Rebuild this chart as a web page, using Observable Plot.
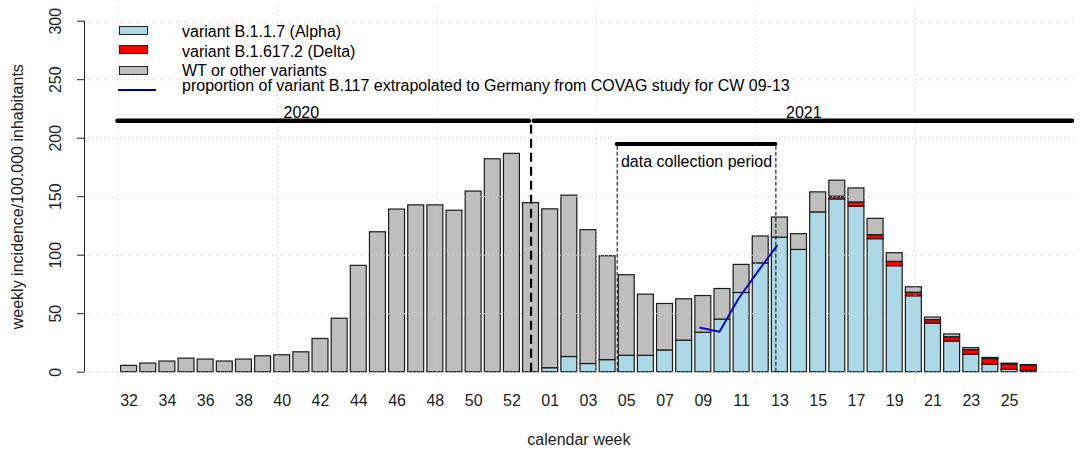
<!DOCTYPE html>
<html>
<head>
<meta charset="utf-8">
<script src="https://cdn.jsdelivr.net/npm/d3@7"></script>
<script src="https://cdn.jsdelivr.net/npm/@observablehq/plot@0.6"></script>
<style>
  html, body { margin: 0; padding: 0; background: #fff; }
  #wrap { position: relative; width: 1084px; height: 456px; font-family: "Liberation Sans", Arial, sans-serif; color: #000; }
  #wrap svg { display: block; }
  .lg-box { position: absolute; width: 29px; height: 9px; box-sizing: border-box; border: 1px solid #222; }
  .lg-text { position: absolute; left: 182px; font-size: 16px; line-height: 18px; white-space: nowrap; }
  .lg-line { position: absolute; left: 118px; width: 38px; height: 2px; background: #00008b; }
</style>
</head>
<body>
<div id="wrap"></div>
<script>
// ---- data ----
const weeks = ["32","33","34","35","36","37","38","39","40","41","42","43","44","45","46","47","48","49","50","51","52","53",
               "01","02","03","04","05","06","07","08","09","10","11","12","13","14","15","16","17","18","19","20","21","22","23","24","25","26"];
const alpha = [0,0,0,0,0,0,0,0,0,0,0,0,0,0,0,0,0,0,0,0,0,0,
               3.4,13,7,10.3,14,14,18.6,27,33.7,45,67.7,93,115,104.5,136.6,147.7,141.4,113.7,90.6,64.9,41.6,26.2,14.8,6.4,2.0,1.2];
const delta = [0,0,0,0,0,0,0,0,0,0,0,0,0,0,0,0,0,0,0,0,0,0,
               0,0,0,0,0,0,0,0,0,0,0,0,0,0,0,2.3,3.7,3.4,3.7,3.1,2.9,3.7,4.1,4.8,4.7,4.4];
const other = [5.4,7.4,9.1,11.6,10.8,9.1,10.8,13.6,14.5,17,28.4,45.7,90.9,119.6,139,142.6,142.6,138,154.4,182,186.6,144.5,
               135.8,137.9,114.4,88.8,68.9,52.3,39.7,35.3,31.4,26.1,24,23,17.2,13.5,17.1,13.7,12,14,7.4,4.6,2.2,2.4,1.7,1.0,0.6,0.5];
const seriesNames = ["variant B.1.1.7 (Alpha)", "variant B.1.617.2 (Delta)", "WT or other variants"];
const seriesColors = ["#add8e6", "#ff0000", "#bebebe"];
const covagWeeks = ["09","10","11","12","13"];
const covagValues = [38, 34.5, 63, 86, 108];
const covagName = "proportion of variant B.117 extrapolated to Germany from COVAG study for CW 09-13";
const xTickLabels = ["32","34","36","38","40","42","44","46","48","50","52","01","03","05","07","09","11","13","15","17","19","21","23","25"];
const yTicks = [0, 50, 100, 150, 200, 250, 300];
const years = ["2020", "2021"];
const yearLevel = 215;
const periodLabel = "data collection period";
const periodLevel = 195;
const xTitle = "calendar week";
const yTitle = "weekly incidence/100.000 inhabitants";

// ---- layout helpers (R barplot style: width 1, space 0.2) ----
const barW = 1, space = 0.2;
const left = i => space + i * (barW + space);
const center = i => left(i) + barW / 2;
const n = weeks.length;
const span = left(n - 1) + barW - space;
const xlo = space - 0.04 * span, xhi = left(n - 1) + barW + 0.04 * span;
const idx = w => weeks.indexOf(w);

const rows = [];
weeks.forEach((w, i) => {
  [alpha, delta, other].forEach((arr, s) => {
    rows.push({week: w, x1: left(i), x2: left(i) + barW, series: seriesNames[s], value: arr[i]});
  });
});
const tickRows = xTickLabels.map(w => ({label: w, x: center(idx(w))}));
const covag = covagWeeks.map((w, k) => ({x: center(idx(w)), y: covagValues[k]}));
const c53 = center(idx("53"));
const yearRows = [
  {label: years[0], x1: 0, x2: c53 - 0.1, tx: center(idx("41"))},
  {label: years[1], x1: c53 + 0.2, x2: xhi - 0.05, tx: center(idx("14")) + 0.3}
];
const pStart = left(idx("05")) - space / 2;
const pEnd = left(idx("13")) + 0.25;

const chart = Plot.plot({
  width: 1084, height: 456,
  marginLeft: 84, marginRight: 11.2, marginTop: 6.66, marginBottom: 70.26,
  x: {domain: [xlo, xhi], axis: null},
  y: {domain: [-12, 312], axis: null},
  color: {domain: seriesNames, range: seriesColors},
  style: {fontFamily: "'Liberation Sans', Arial, sans-serif", fontSize: "16px", background: "#fff", color: "#000"},
  marks: [
    Plot.rectY(rows, {x1: "x1", x2: "x2", y: "value", fill: "series", stroke: "#1a1a1a", strokeWidth: 1.2}),
    Plot.gridX({ticks: [0, 10, 20, 30, 40, 50], stroke: "#cfcfcf", strokeOpacity: 1, strokeDasharray: "1,3"}),
    Plot.gridY({ticks: yTicks, stroke: "#cfcfcf", strokeOpacity: 1, strokeDasharray: "1,3"}),
    // y axis
    Plot.ruleX([xlo], {y1: 0, y2: 300, stroke: "#222"}),
    Plot.axisY({ticks: yTicks, tickSize: 7, tickFormat: () => "", stroke: "#222", label: null}),
    Plot.text(yTicks, {y: d => d, text: d => String(d), frameAnchor: "left", textAnchor: "middle", lineAnchor: "middle", rotate: -90, dx: -29, fill: "#222"}),
    Plot.text([yTitle], {frameAnchor: "left", textAnchor: "middle", lineAnchor: "middle", rotate: -90, dx: -67, fill: "#222"}),
    // x labels
    Plot.text(tickRows, {x: "x", text: "label", frameAnchor: "bottom", lineAnchor: "middle", dy: 15, fill: "#222"}),
    Plot.text([xTitle], {frameAnchor: "bottom", lineAnchor: "middle", dy: 54, fill: "#222"}),
    // year brackets
    Plot.ruleY(yearRows, {y: () => yearLevel, x1: "x1", x2: "x2", stroke: "#000", strokeWidth: 4.5, strokeLinecap: "round"}),
    Plot.text(yearRows, {x: "tx", y: () => yearLevel, text: "label", dy: -8, fill: "#000"}),
    Plot.ruleX([c53], {y1: 0, y2: yearLevel, stroke: "#000", strokeWidth: 2.2, strokeDasharray: "9,5"}),
    // data collection period
    Plot.ruleY([periodLevel], {x1: pStart, x2: pEnd, stroke: "#000", strokeWidth: 4, strokeLinecap: "round"}),
    Plot.ruleX([pStart, pEnd], {y1: 0, y2: periodLevel, stroke: "#000", strokeWidth: 1, strokeDasharray: "4,2"}),
    Plot.text([periodLabel], {x: (pStart + pEnd) / 2, y: 180, fill: "#000"}),
    // COVAG line
    Plot.line(covag, {x: "x", y: "y", stroke: "#0a0ac8", strokeWidth: 2, dx: -3})
  ]
});

const wrap = document.getElementById("wrap");
wrap.appendChild(chart);

// legend (inside the plot area, top-left, as in the reference)
const legendRows = [
  {top: 25.5, textTop: 23, color: seriesColors[0], label: seriesNames[0]},
  {top: 45, textTop: 42.5, color: seriesColors[1], label: seriesNames[1]},
  {top: 65.5, textTop: 62, color: seriesColors[2], label: seriesNames[2]}
];
legendRows.forEach(r => {
  const b = document.createElement("div");
  b.className = "lg-box";
  b.style.left = "119px"; b.style.top = r.top + "px"; b.style.background = r.color;
  wrap.appendChild(b);
  const t = document.createElement("div");
  t.className = "lg-text"; t.style.top = r.textTop + "px"; t.textContent = r.label;
  wrap.appendChild(t);
});
const ln = document.createElement("div");
ln.className = "lg-line"; ln.style.top = "89px";
wrap.appendChild(ln);
const lt = document.createElement("div");
lt.className = "lg-text"; lt.style.top = "77px"; lt.textContent = covagName;
wrap.appendChild(lt);
</script>
</body>
</html>
